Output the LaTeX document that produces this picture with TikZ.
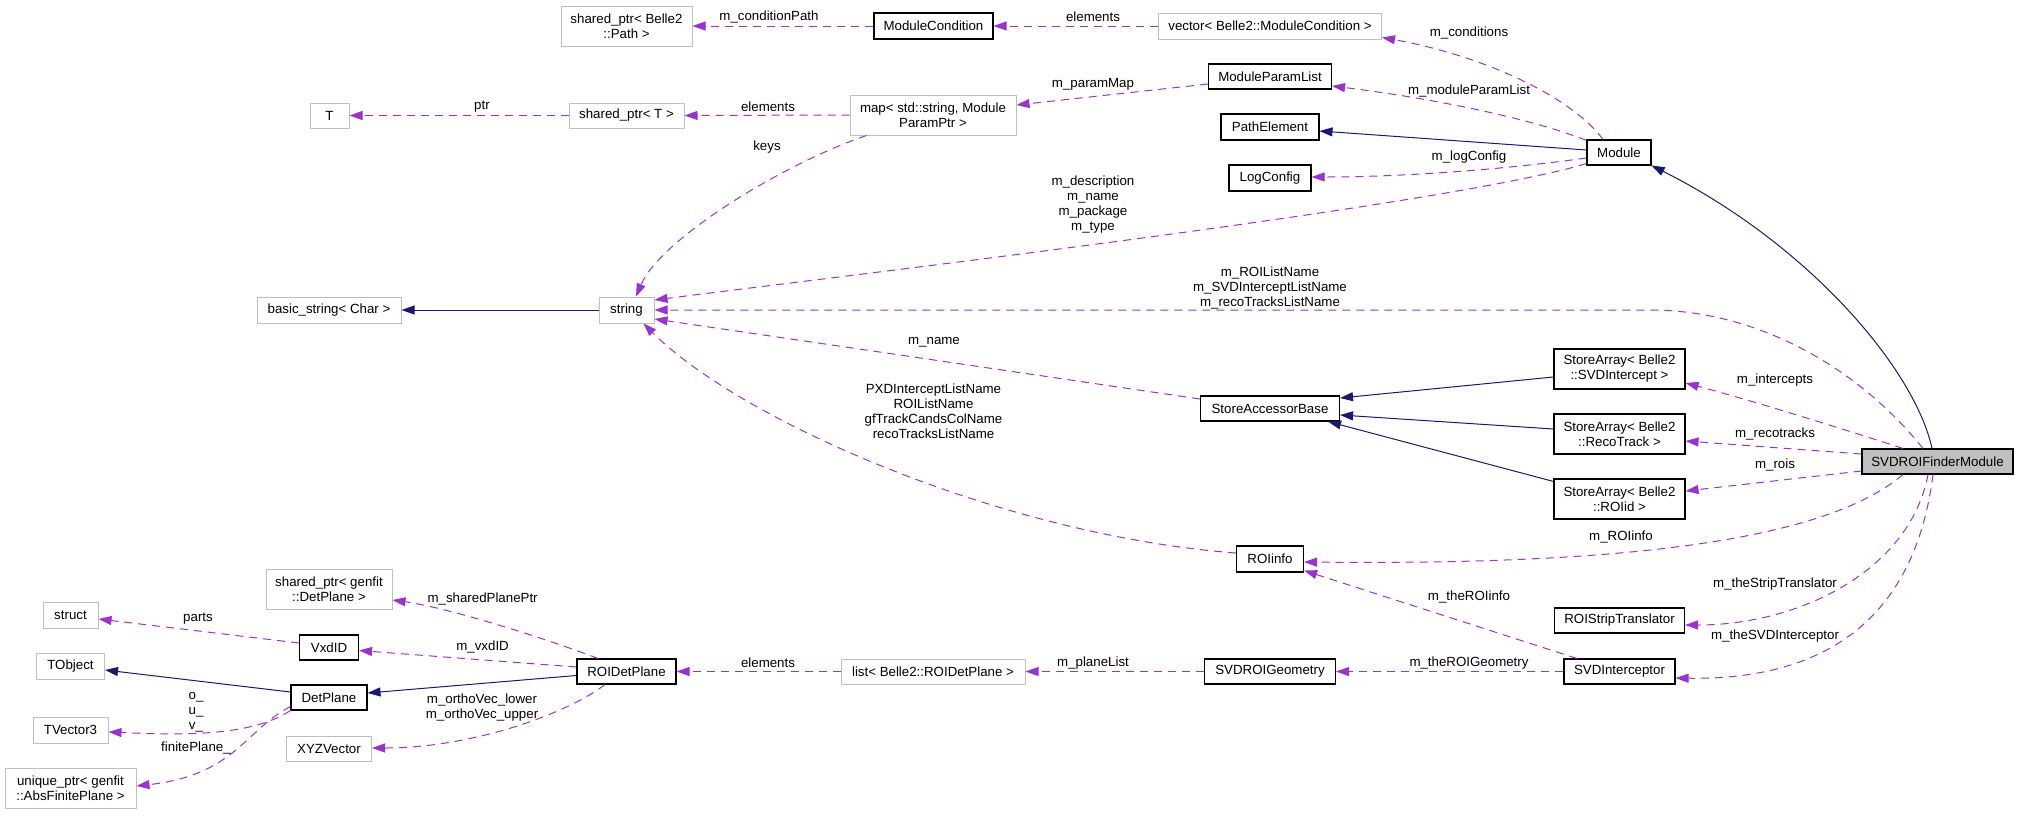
\documentclass[tikz,border=0pt]{standalone}
\usepackage{fontspec}
\setmainfont{Liberation Sans}
\usetikzlibrary{arrows.meta,calc}
\definecolor{usecol}{HTML}{9A32CD}
\definecolor{inhcol}{HTML}{191970}
\definecolor{graybd}{HTML}{BFBFBF}
\newcommand{\dfont}{\fontsize{13.3}{15}\selectfont}
\begin{document}
\begin{tikzpicture}[x=1pt,y=-1pt,
  clsbox/.style={draw=black, line width=1.1pt, inner sep=0pt, align=center, font=\dfont, fill=white},
  extbox/.style={draw=graybd, line width=1pt, inner sep=0pt, align=center, font=\dfont, fill=white},
  curbox/.style={clsbox, fill=graybd},
  lbl/.style={inner sep=0pt, align=center, font=\dfont},
  usedge/.style={draw=usecol, line width=1pt, dash pattern=on 8pt off 6pt, -{Triangle[length=13pt,width=9pt]}},
  inhedge/.style={draw=inhcol, line width=1pt, -{Triangle[length=13pt,width=9pt]}}
]
\fill[white] (0,0) rectangle (2019,815);
\useasboundingbox (0,0) rectangle (2019,815);

% ---------- nodes ----------
\node[extbox, minimum width=131pt, minimum height=40pt] (spPath) at (626.5,26) {shared\_ptr< Belle2\\::Path >};
\node[extbox, minimum width=39pt, minimum height=25pt] (T) at (329.5,115.5) {T};
\node[extbox, minimum width=115pt, minimum height=25pt] (spT) at (626.5,115.5) {shared\_ptr< T >};
\node[clsbox, minimum width=119pt, minimum height=26pt] (ModCond) at (933.5,26) {ModuleCondition};
\node[extbox, minimum width=223pt, minimum height=26pt] (vecMC) at (1270,26) {vector< Belle2::ModuleCondition >};
\node[clsbox, minimum width=123pt, minimum height=25pt] (MPL) at (1270,76.5) {ModuleParamList};
\node[extbox, minimum width=166pt, minimum height=40pt] (map) at (933,115) {map< std::string, Module\\ParamPtr >};
\node[clsbox, minimum width=98pt, minimum height=26pt] (PathEl) at (1270,127) {PathElement};
\node[clsbox, minimum width=82pt, minimum height=26pt] (LogCfg) at (1270,178) {LogConfig};
\node[clsbox, minimum width=64pt, minimum height=25pt] (Module) at (1619,152.5) {Module};
\node[extbox, minimum width=144pt, minimum height=26pt] (bstr) at (329,310) {basic\_string< Char >};
\node[extbox, minimum width=55pt, minimum height=26pt] (str) at (626.5,310) {string};
\node[clsbox, minimum width=139pt, minimum height=25pt] (SAB) at (1270,408.5) {StoreAccessorBase};
\node[clsbox, minimum width=131pt, minimum height=40pt] (SAsvd) at (1619.5,369) {StoreArray< Belle2\\::SVDIntercept >};
\node[clsbox, minimum width=131pt, minimum height=40pt] (SAreco) at (1619.5,434) {StoreArray< Belle2\\::RecoTrack >};
\node[clsbox, minimum width=131pt, minimum height=40pt] (SAroi) at (1619.5,499) {StoreArray< Belle2\\::ROIid >};
\node[curbox, minimum width=151pt, minimum height=25pt] (SVDROI) at (1937.5,461.5) {SVDROIFinderModule};
\node[clsbox, minimum width=67pt, minimum height=26pt] (ROIinfo) at (1270,559) {ROIinfo};
\node[clsbox, minimum width=130pt, minimum height=25pt] (Strip) at (1619.5,620.5) {ROIStripTranslator};
\node[clsbox, minimum width=111pt, minimum height=25pt] (Icpt) at (1619.5,671.5) {SVDInterceptor};
\node[clsbox, minimum width=131pt, minimum height=25pt] (Geom) at (1270,671.5) {SVDROIGeometry};
\node[extbox, minimum width=184pt, minimum height=25pt] (listROI) at (933,671.5) {list< Belle2::ROIDetPlane >};
\node[clsbox, minimum width=99pt, minimum height=25pt] (ROIDP) at (626.5,671.5) {ROIDetPlane};
\node[extbox, minimum width=126pt, minimum height=40pt] (spDP) at (329,589) {shared\_ptr< genfit\\::DetPlane >};
\node[extbox, minimum width=55pt, minimum height=26pt] (struct) at (70.5,615) {struct};
\node[clsbox, minimum width=59pt, minimum height=25pt] (VxdID) at (329,647.5) {VxdID};
\node[extbox, minimum width=68pt, minimum height=26pt] (TObject) at (70.5,666) {TObject};
\node[clsbox, minimum width=76pt, minimum height=25pt] (DetPlane) at (329,697.5) {DetPlane};
\node[extbox, minimum width=75pt, minimum height=26pt] (TVector3) at (70.5,730) {TVector3};
\node[extbox, minimum width=85pt, minimum height=25pt] (XYZ) at (329,748.5) {XYZVector};
\node[extbox, minimum width=131pt, minimum height=40pt] (uptr) at (70.5,788.5) {unique\_ptr< genfit\\::AbsFinitePlane >};

% ---------- inheritance ----------
\draw[inhedge] ($(SVDROI.north)+(-5.5,0)$) .. controls (1915,370) and (1810,245) .. (Module.south east);
\draw[inhedge] ($(Module.west)+(0,-2.5)$) -- ($(PathEl.east)+(0,4)$);
\draw[inhedge] (str.west) -- (bstr.east);
\draw[inhedge] ($(SAsvd.west)+(0,8)$) -- ($(SAB.east)+(0,-10.5)$);
\draw[inhedge] ($(SAreco.west)+(0,-5)$) -- ($(SAB.east)+(0,6.5)$);
\draw[inhedge] ($(SAroi.north west)+(0,3)$) -- ($(SAB.south east)+(-12,0)$);
\draw[inhedge] ($(ROIDP.west)+(0,4)$) -- ($(DetPlane.east)+(0,-4.5)$);
\draw[inhedge] ($(DetPlane.west)+(0,-5.5)$) -- ($(TObject.east)+(0,4)$);

% ---------- usage ----------
\draw[usedge] (ModCond.west) -- (spPath.east);
\node[lbl] (l1) at (769,17) {m\_conditionPath};
\draw[usedge] (vecMC.west) -- (ModCond.east);
\node[lbl] (l2) at (1093,17) {elements};
\draw[usedge] ($(Module.north)+(-16,0)$) .. controls (1570,95) and (1480,55) .. ($(vecMC.south east)+(0,-2)$);
\node[lbl] (l3) at (1469,33) {m\_conditions};
\draw[usedge] ($(Module.north west)+(0,1)$) .. controls (1530,118) and (1430,98) .. ($(MPL.east)+(0,9.5)$);
\node[lbl] (l4) at (1469,91) {m\_moduleParamList};
\draw[usedge] ($(MPL.west)+(0,7.5)$) -- ($(map.east)+(0,-10)$);
\node[lbl] (l5) at (1093,84) {m\_paramMap};
\draw[usedge] (map.west) -- (spT.east);
\node[lbl] (l6) at (768,107) {elements};
\draw[usedge] (spT.west) -- (T.east);
\node[lbl] (l7) at (482,107) {ptr};
\draw[usedge] ($(map.south west)+(17,0)$) .. controls (780,165) and (660,240) .. ($(str.north)+(9.5,0)$);
\node[lbl] (l8) at (767,147) {keys};
\draw[usedge] ($(Module.west)+(0,5.5)$) .. controls (1500,170) and (1400,177) .. ($(LogCfg.east)+(0,-1)$);
\node[lbl] (l9) at (1469,157) {m\_logConfig};
\draw[usedge] ($(Module.south west)+(0,-2)$) .. controls (1450,205) and (850,275) .. ($(str.east)+(0,-10)$);
\node[lbl] (l10) at (1093,205) {m\_description\\m\_name\\m\_package\\m\_type};
\coordinate (bendA) at (1650,310);
\draw[usedge] ($(SVDROI.north)+(-14.5,0)$) .. controls (1860,370) and (1760,310) .. (bendA) -- (str.east);
\node[lbl] (l11) at (1270,287.5) {m\_ROIListName\\m\_SVDInterceptListName\\m\_recoTracksListName};
\draw[usedge] ($(SAB.west)+(0,-9.5)$) -- ($(str.east)+(0,9)$);
\node[lbl] (l12) at (934,342) {m\_name};
\draw[usedge] ($(ROIinfo.west)+(0,-6)$) .. controls (1000,535) and (740,420) .. ($(str.south east)+(-11,0)$);
\node[lbl] (l13) at (933.5,411) {PXDInterceptListName\\ROIListName\\gfTrackCandsColName\\recoTracksListName};
\draw[usedge] ($(SVDROI.north)+(-34.5,0)$) .. controls (1840,428) and (1750,400) .. ($(SAsvd.east)+(0,14)$);
\node[lbl] (l14) at (1775,380) {m\_intercepts};
\draw[usedge] ($(SVDROI.west)+(0,-7.5)$) -- ($(SAreco.east)+(0,7)$);
\node[lbl] (l15) at (1775,434) {m\_recotracks};
\draw[usedge] ($(SVDROI.west)+(0,9.5)$) -- ($(SAroi.east)+(0,-8)$);
\node[lbl] (l16) at (1775,465) {m\_rois};
\draw[usedge] ($(SVDROI.south)+(-34.5,0)$) .. controls (1820,545) and (1600,565) .. ($(ROIinfo.east)+(0,3)$);
\node[lbl] (l17) at (1621,537) {m\_ROIinfo};
\draw[usedge] ($(Icpt.north west)+(13.5,0)$) -- ($(ROIinfo.south east)+(0,-2)$);
\node[lbl] (l18) at (1469,597) {m\_theROIinfo};
\draw[usedge] ($(SVDROI.south)+(-9.5,0)$) .. controls (1910,570) and (1800,625) .. ($(Strip.east)+(0,4.5)$);
\node[lbl] (l19) at (1775,584) {m\_theStripTranslator};
\draw[usedge] ($(SVDROI.south)+(-4.5,0)$) .. controls (1912,640) and (1800,680) .. ($(Icpt.east)+(0,6.5)$);
\node[lbl] (l20) at (1775,636) {m\_theSVDInterceptor};
\draw[usedge] (Icpt.west) -- (Geom.east);
\node[lbl] (l21) at (1469,663) {m\_theROIGeometry};
\draw[usedge] (Geom.west) -- (listROI.east);
\node[lbl] (l22) at (1093,663) {m\_planeList};
\draw[usedge] (listROI.west) -- (ROIDP.east);
\node[lbl] (l23) at (768,663) {elements};
\draw[usedge] ($(ROIDP.north)+(-28.5,0)$) .. controls (550,640) and (450,608) .. ($(spDP.east)+(0,11)$);
\node[lbl] (l24) at (482.6,599) {m\_sharedPlanePtr};
\draw[usedge] ($(ROIDP.west)+(0,-4.5)$) -- ($(VxdID.east)+(0,3)$);
\node[lbl] (l25) at (482.6,647) {m\_vxdID};
\draw[usedge] ($(VxdID.west)+(0,-4.5)$) -- ($(struct.east)+(0,4)$);
\node[lbl] (l26) at (198,619) {parts};
\draw[usedge] ($(ROIDP.south)+(-21.5,0)$) .. controls (565,715) and (470,748) .. ($(XYZ.east)+(0,-0.5)$);
\node[lbl] (l27) at (482,708) {m\_orthoVec\_lower\\m\_orthoVec\_upper};
\draw[usedge] (DetPlane.south west) .. controls (250,737) and (180,735) .. ($(TVector3.east)+(0,2)$);
\node[lbl] (l28) at (196,712) {o\_\\u\_\\v\_};
\draw[usedge] ($(DetPlane.west)+(0,9)$) .. controls (245,730) and (235,775) .. ($(uptr.east)+(0,-2.5)$);
\node[lbl] (l29) at (196,748) {finitePlane\_};
\end{tikzpicture}
\end{document}
